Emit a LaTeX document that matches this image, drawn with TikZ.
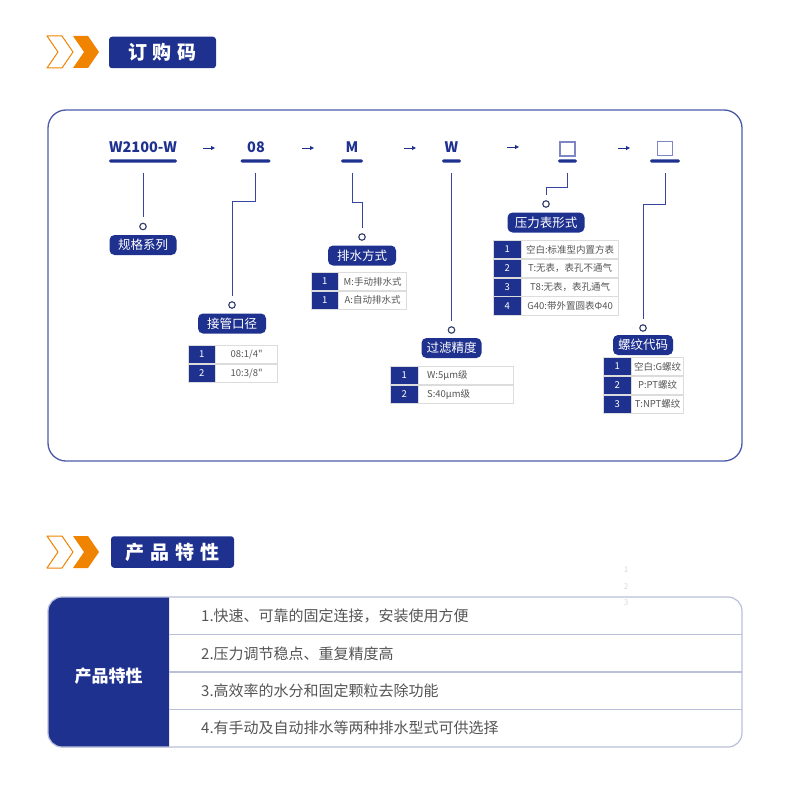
\documentclass[tikz,border=0pt]{standalone}
\usepackage{fontspec}
\newfontfamily\cjk{Noto Sans CJK SC}
\usepackage{xcolor}
\usepackage{tikz}
\usetikzlibrary{arrows.meta,positioning}

\definecolor{navy}{HTML}{1F318F}
\definecolor{brandorange}{HTML}{F08300}
\definecolor{frameline}{HTML}{4B5AA8}
\definecolor{wireline}{HTML}{3545A0}
\definecolor{boxline}{HTML}{7F86C6}
\definecolor{dotline}{HTML}{2E3A68}
\definecolor{cellline}{HTML}{DCDCDC}
\definecolor{rowline}{HTML}{B9C0D9}
\definecolor{graytext}{HTML}{555555}
\definecolor{faint}{HTML}{D5D8E2}

\begin{document}
\begin{tikzpicture}[x=1pt, y=-1pt, >={Triangle[length=4pt,width=4pt]}]

	\tikzstyle{chevline}=[draw=brandorange, line width=1pt, fill=white, line join=round]
	\tikzstyle{chevfill}=[fill=brandorange, line join=round]
	\tikzstyle{headbox}=[fill=navy, rounded corners=3pt, minimum height=31.5pt, text=white, font=\cjk\bfseries\fontsize{19}{19}\selectfont]
	\tikzstyle{codetxt}=[text=navy, inner sep=0, font=\cjk\bfseries\fontsize{14.5}{14.5}\selectfont]
	\tikzstyle{codebox}=[draw=boxline, line width=1.3pt, minimum width=15pt, minimum height=14pt, inner sep=0]
	\tikzstyle{uline}=[fill=navy, rounded corners=1.6pt, minimum height=3.4pt, inner sep=0]
	\tikzstyle{codearrow}=[->, draw=navy, line width=1pt]
	\tikzstyle{wire}=[draw=wireline, line width=1pt]
	\tikzstyle{dot}=[circle, draw=dotline, fill=white, line width=1.1pt, minimum size=6.5pt, inner sep=0]
	\tikzstyle{pill}=[fill=navy, rounded corners=5pt, text=white, minimum height=20pt, inner sep=0, font=\cjk\fontsize{12.5}{12.5}\selectfont]
	\tikzstyle{numcell}=[fill=navy, draw=cellline, text=white, minimum height=18.4pt, inner sep=0, anchor=north west, font=\cjk\fontsize{9.5}{9.5}\selectfont]
	\tikzstyle{desccell}=[fill=white, draw=cellline, text=graytext, minimum height=18.4pt, inner sep=0, font=\cjk\fontsize{9.5}{9.5}\selectfont]
	\tikzstyle{featlabel}=[text=white, inner sep=0, font=\cjk\bfseries\fontsize{17}{17}\selectfont]
	\tikzstyle{feattxt}=[text=graytext, anchor=west, inner sep=0, font=\cjk\fontsize{15}{15}\selectfont]
	\tikzstyle{faintnum}=[text=faint, inner sep=0, font=\cjk\fontsize{8}{8}\selectfont]

	\useasboundingbox (0,0) rectangle (790,792);

	% Header: order code
	\draw[chevline] (47,36) -- (62,36) -- (73,52) -- (62,68) -- (47,68) -- (58,52) -- cycle;
	\fill[chevfill] (73,36) -- (88,36) -- (99,52) -- (88,68) -- (73,68) -- (84,52) -- cycle;
	\node[headbox, minimum width=107pt] (headOrder) at (162.5,52.5) {订\kern6pt购\kern6pt码};

	% Frame
	\draw[frameline, line width=1.3pt, rounded corners=18pt] (48,110) rectangle (742,461);

	% Code row
	\node[codetxt] (codeSeries) at (143,147.5) {W2100-W};
	\node[codetxt] (codePort)   at (256,147.5) {08};
	\node[codetxt] (codeDrain)  at (352,147.5) {M};
	\node[codetxt] (codeFilter) at (451.5,147.5) {W};
	\node[codebox] (codeGauge)  at (567.5,149) {};
	\node[codebox] (codeThread) at (665,148.5) {};

	\node[uline, minimum width=68pt] (ulSeries) at (143,161) {};
	\node[uline, minimum width=30pt] (ulPort)   at (255.5,161) {};
	\node[uline, minimum width=22pt] (ulDrain)  at (352,161) {};
	\node[uline, minimum width=19pt] (ulFilter) at (451.5,161) {};
	\node[uline, minimum width=19pt] (ulGauge)  at (567.5,161) {};
	\node[uline, minimum width=30pt] (ulThread) at (665,161) {};

	\coordinate (arr1) at (203,148);
	\coordinate (arr2) at (302,148);
	\coordinate (arr3) at (404,148);
	\coordinate (arr4) at (507,147);
	\coordinate (arr5) at (618,148);
	\draw[codearrow] (arr1) -- ++(12,0);
	\draw[codearrow] (arr2) -- ++(12,0);
	\draw[codearrow] (arr3) -- ++(12,0);
	\draw[codearrow] (arr4) -- ++(12,0);
	\draw[codearrow] (arr5) -- ++(12,0);

	% Dots and labels
	\node[dot] (dotSeries) at (143,226.5) {};
	\node[dot] (dotPort)   at (232,305) {};
	\node[dot] (dotDrain)  at (362,237) {};
	\node[dot] (dotFilter) at (451.5,330) {};
	\node[dot] (dotGauge)  at (546,204) {};
	\node[dot] (dotThread) at (643,328) {};

	\node[pill, minimum width=67pt] (labSeries) [below=4.5pt of dotSeries] {规格系列};
	\node[pill, minimum width=68pt] (labPort)   [below=4.5pt of dotPort] {接管口径};
	\node[pill, minimum width=68pt] (labDrain)  [below=4.5pt of dotDrain] {排水方式};
	\node[pill, minimum width=60pt] (labFilter) [below=4pt of dotFilter] {过滤精度};
	\node[pill, minimum width=77pt] (labGauge)  [below=4.5pt of dotGauge] {压力表形式};
	\node[pill, minimum width=60pt] (labThread) [below=3pt of dotThread] {螺纹代码};

	% Wires from codes to dots
	\coordinate (kPort)   at (232,201);
	\coordinate (kDrain)  at (362,202);
	\coordinate (kGauge)  at (546,187);
	\coordinate (kThread) at (643,204);
	\draw[wire] ([yshift=-10pt]ulSeries.south) -- ([yshift=6pt]dotSeries.north);
	\draw[wire] ([yshift=-10pt]ulPort.south) |- (kPort) -- ([yshift=5pt]dotPort.north);
	\draw[wire] ([yshift=-10pt]ulDrain.south) |- (kDrain) -- ([yshift=5pt]dotDrain.north);
	\draw[wire] ([yshift=-10pt]ulFilter.south) -- ([yshift=5pt]dotFilter.north);
	\draw[wire] ([yshift=-10pt]ulGauge.south) |- (kGauge) -- ([yshift=5pt]dotGauge.north);
	\draw[wire] ([yshift=-10pt]ulThread.south) |- (kThread) -- ([yshift=5pt]dotThread.north);

	% Table: port size
	\node[numcell, minimum width=27pt] (portN1) at (188,345) {1};
	\node[desccell, minimum width=62pt] (portD1) [right=0pt of portN1] {08:1/4"};
	\node[numcell, minimum width=27pt] (portN2) [below=0pt of portN1] {2};
	\node[desccell, minimum width=62pt] (portD2) [right=0pt of portN2] {10:3/8"};

	% Table: drain type
	\node[numcell, minimum width=27pt] (drainN1) at (311,272) {1};
	\node[desccell, minimum width=68pt] (drainD1) [right=0pt of drainN1] {M:手动排水式};
	\node[numcell, minimum width=27pt] (drainN2) [below=0pt of drainN1] {1};
	\node[desccell, minimum width=68pt] (drainD2) [right=0pt of drainN2] {A:自动排水式};

	% Table: filter grade
	\node[numcell, minimum width=28pt] (filterN1) at (390,366) {1};
	\node[desccell, minimum width=95pt, text width=78pt, align=left] (filterD1) [right=0pt of filterN1] {W:5μm级};
	\node[numcell, minimum width=28pt] (filterN2) [below=0pt of filterN1] {2};
	\node[desccell, minimum width=95pt, text width=78pt, align=left] (filterD2) [right=0pt of filterN2] {S:40μm级};

	% Table: gauge type
	\node[numcell, minimum width=28pt] (gaugeN1) at (493,240) {1};
	\node[desccell, minimum width=97pt] (gaugeD1) [right=0pt of gaugeN1] {空白:标准型内置方表};
	\node[numcell, minimum width=28pt] (gaugeN2) [below=0pt of gaugeN1] {2};
	\node[desccell, minimum width=97pt] (gaugeD2) [right=0pt of gaugeN2] {T:无表，表孔不通气};
	\node[numcell, minimum width=28pt] (gaugeN3) [below=0pt of gaugeN2] {3};
	\node[desccell, minimum width=97pt] (gaugeD3) [right=0pt of gaugeN3] {T8:无表，表孔通气};
	\node[numcell, minimum width=28pt] (gaugeN4) [below=0pt of gaugeN3] {4};
	\node[desccell, minimum width=97pt] (gaugeD4) [right=0pt of gaugeN4] {G40:带外置圆表Φ40};

	% Table: thread code
	\node[numcell, minimum width=28pt] (threadN1) at (603,357) {1};
	\node[desccell, minimum width=52pt] (threadD1) [right=0pt of threadN1] {空白:G螺纹};
	\node[numcell, minimum width=28pt] (threadN2) [below=0pt of threadN1] {2};
	\node[desccell, minimum width=52pt] (threadD2) [right=0pt of threadN2] {P:PT螺纹};
	\node[numcell, minimum width=28pt] (threadN3) [below=0pt of threadN2] {3};
	\node[desccell, minimum width=52pt] (threadD3) [right=0pt of threadN3] {T:NPT螺纹};

	% Header: features
	\draw[chevline] (47,536) -- (62,536) -- (73,552) -- (62,568) -- (47,568) -- (58,552) -- cycle;
	\fill[chevfill] (73,536) -- (88,536) -- (99,552) -- (88,568) -- (73,568) -- (84,552) -- cycle;
	\node[headbox, minimum width=123pt] (headFeat) at (172.5,552) {产\kern6pt品\kern6pt特\kern6pt性};

	\node[faintnum] (faint1) at (626,570) {1};
	\node[faintnum] (faint2) at (626,587) {2};
	\node[faintnum] (faint3) at (626,603) {3};

	% Features table
	\fill[navy] (169,597) [rounded corners=14pt] -- (48,597) -- (48,747) [sharp corners] -- (169,747) -- cycle;
	\draw[rowline, line width=1.2pt, rounded corners=14pt] (48,597) rectangle (742,747);
	\draw[rowline, line width=1.2pt] (169,634.5) -- (742,634.5);
	\draw[rowline, line width=1.2pt] (169,672) -- (742,672);
	\draw[rowline, line width=1.2pt] (169,709.5) -- (742,709.5);

	\node[featlabel] (featHead) at (108.5,676) {产品特性};
	\node[feattxt] (feat1) at (201,616) {1.快速、可靠的固定连接，安装使用方便};
	\node[feattxt] (feat2) at (201,654) {2.压力调节稳点、重复精度高};
	\node[feattxt] (feat3) at (201,691) {3.高效率的水分和固定颗粒去除功能};
	\node[feattxt] (feat4) at (201,728) {4.有手动及自动排水等两种排水型式可供选择};

\end{tikzpicture}
\end{document}
